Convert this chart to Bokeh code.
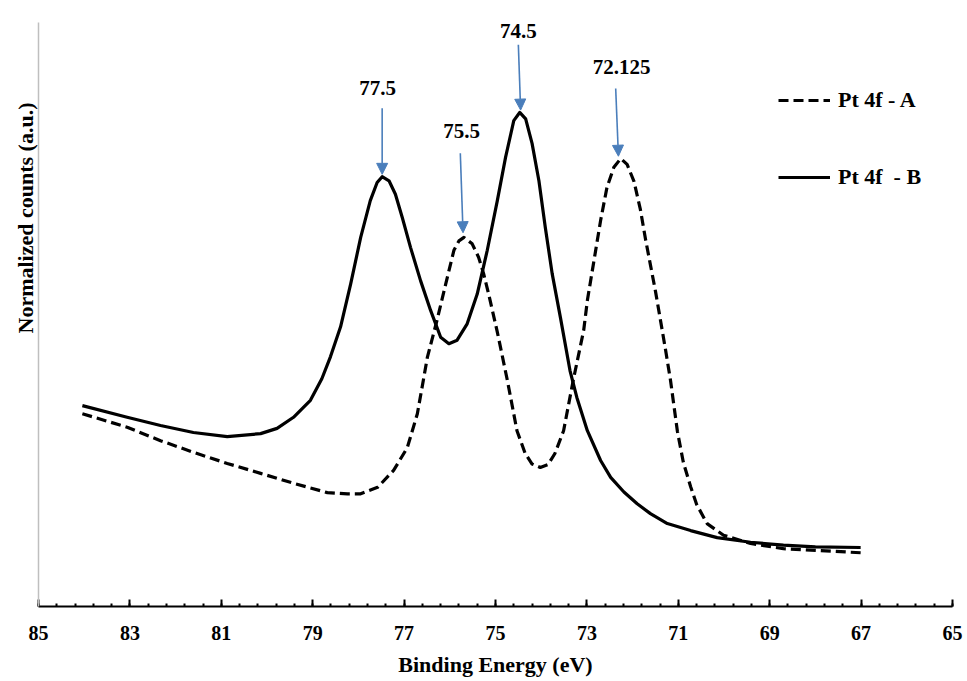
import numpy as np
from bokeh.plotting import figure
from bokeh.models import (Range1d, FixedTicker, Arrow, NormalHead, Legend, Title,
                          LegendItem, ColumnDataSource, LabelSet)
from bokeh.core.properties import value
from bokeh.embed import file_html
from bokeh.resources import INLINE

# ---- data ----
energy_a = [84.04, 83.06, 82.33, 81.61, 80.87, 80.14, 79.42, 78.68, 78.24, 77.95,
            77.58, 77.23, 76.93, 76.71, 76.58, 76.49, 76.28, 76.09, 75.91, 75.80,
            75.69, 75.51, 75.37, 75.26, 75.15, 74.96, 74.74, 74.53, 74.35, 74.20,
            74.02, 73.85, 73.70, 73.51, 73.30, 73.07, 72.99, 72.85, 72.70, 72.56,
            72.41, 72.26, 72.12, 71.97, 71.83, 71.72, 71.61, 71.50, 71.39, 71.28,
            71.17, 71.02, 70.89, 70.73, 70.60, 70.37, 70.01, 69.42, 68.70, 67.95, 67.01]
counts_a = [0.330, 0.307, 0.284, 0.264, 0.245, 0.228, 0.211, 0.195, 0.193, 0.193,
            0.204, 0.233, 0.272, 0.330, 0.387, 0.427, 0.490, 0.552, 0.610, 0.626,
            0.632, 0.621, 0.598, 0.570, 0.535, 0.470, 0.387, 0.301, 0.262, 0.244,
            0.238, 0.243, 0.262, 0.301, 0.387, 0.473, 0.524, 0.590, 0.661, 0.718,
            0.752, 0.767, 0.757, 0.728, 0.680, 0.630, 0.585, 0.540, 0.490, 0.440,
            0.387, 0.300, 0.247, 0.205, 0.175, 0.142, 0.122, 0.108, 0.099, 0.096, 0.092]

energy_b = [84.04, 83.06, 82.33, 81.61, 80.87, 80.14, 79.78, 79.42, 79.05, 78.80,
            78.61, 78.39, 78.17, 77.95, 77.74, 77.59, 77.48, 77.33, 77.19, 77.04,
            76.86, 76.64, 76.42, 76.20, 76.02, 75.84, 75.62, 75.40, 75.18, 74.96,
            74.78, 74.60, 74.47, 74.34, 74.20, 74.05, 73.91, 73.76, 73.58, 73.37,
            73.22, 72.99, 72.70, 72.48, 72.19, 71.90, 71.61, 71.24, 70.73, 70.15,
            69.42, 68.70, 68.00, 67.01]
counts_b = [0.344, 0.324, 0.310, 0.298, 0.291, 0.296, 0.305, 0.324, 0.353, 0.390,
            0.428, 0.479, 0.552, 0.632, 0.695, 0.726, 0.736, 0.729, 0.706, 0.666,
            0.615, 0.558, 0.507, 0.461, 0.450, 0.456, 0.484, 0.535, 0.610, 0.695,
            0.769, 0.832, 0.846, 0.835, 0.793, 0.729, 0.649, 0.570, 0.495, 0.404,
            0.358, 0.301, 0.250, 0.221, 0.196, 0.176, 0.159, 0.142, 0.130, 0.118,
            0.110, 0.105, 0.102, 0.101]

series_names = ["Pt 4f - A", "Pt 4f  - B"]

x_ticks = [85, 83, 81, 79, 77, 75, 73, 71, 69, 67, 65]

peak_labels = ["77.5", "75.5", "74.5", "72.125"]
label_x = [77.58, 75.74, 74.50, 72.24]
label_y = [0.887, 0.815, 0.986, 0.923]
arrow_x_tail = [77.48, 75.77, 74.50, 72.37]
arrow_y_tail = [0.853, 0.776, 0.962, 0.887]
arrow_x_tip = [77.48, 75.71, 74.45, 72.31]
arrow_y_tip = [0.740, 0.640, 0.850, 0.771]

FONT = "Liberation Serif"
ARROW_BLUE = "#4A7EBB"

p = figure(width=967, height=681, output_backend="svg", toolbar_location=None,
           x_range=Range1d(85, 65), y_range=Range1d(0, 1),
           min_border_left=38, min_border_right=15, min_border_top=22,
           min_border_bottom=75)
p.outline_line_color = None
p.xgrid.visible = False
p.ygrid.visible = False
p.background_fill_color = "white"
p.border_fill_color = "white"

ra = p.line(energy_a, counts_a, line_color="black", line_width=3.2, line_dash="10 5",
            line_join="round")
rb = p.line(energy_b, counts_b, line_color="black", line_width=3.2, line_join="round")

# x axis
minor = [round(v, 2) for v in np.arange(65, 85.001, 0.4)]
xa = p.xaxis[0]
xa.ticker = FixedTicker(ticks=x_ticks, minor_ticks=minor)
xa.axis_line_color = "black"
xa.axis_line_width = 2
xa.major_tick_line_color = "black"
xa.major_tick_line_width = 2
xa.major_tick_in = 7
xa.major_tick_out = 0
xa.minor_tick_line_color = "black"
xa.minor_tick_line_width = 2
xa.minor_tick_in = 3
xa.minor_tick_out = 0
xa.major_label_text_font = FONT
xa.major_label_text_font_style = "bold"
xa.major_label_text_font_size = "20px"
xa.major_label_text_color = "black"
xa.major_label_standoff = 19
xa.axis_label = "Binding Energy (eV)"
xa.axis_label_text_font = FONT
xa.axis_label_text_font_style = "bold"
xa.axis_label_text_font_size = "22px"
xa.axis_label_text_color = "black"
xa.axis_label_standoff = 9

# y axis (line only)
ya = p.yaxis[0]
ya.ticker = FixedTicker(ticks=[])
ya.axis_line_color = "#BFBFBF"
ya.axis_line_width = 1.5
ya.major_tick_line_color = None
ya.minor_tick_line_color = None
ya.major_label_text_font_size = "0px"
ya.major_tick_in = 0
ya.major_tick_out = 0
ya.major_label_standoff = 0

p.add_layout(Title(text="Normalized counts (a.u.)", align="left", offset=273,
                   vertical_align="middle", standoff=0,
                   text_font=FONT, text_font_style="bold", text_font_size="22px",
                   text_color="black"), "left")

# peak annotations
asrc = ColumnDataSource(dict(x0=arrow_x_tail, y0=arrow_y_tail, x1=arrow_x_tip, y1=arrow_y_tip))
p.add_layout(Arrow(source=asrc, x_start="x0", y_start="y0", x_end="x1", y_end="y1",
                   line_color=ARROW_BLUE, line_width=1.6,
                   end=NormalHead(size=11, fill_color=ARROW_BLUE, line_color=ARROW_BLUE)))
lsrc = ColumnDataSource(dict(x=label_x, y=label_y, t=peak_labels))
p.add_layout(LabelSet(source=lsrc, x="x", y="y", text="t", text_align="center",
                      text_baseline="middle", text_font=value(FONT),
                      text_font_style="bold", text_font_size="21px", text_color="black"))

legend = Legend(items=[LegendItem(label=series_names[0], renderers=[ra]),
                       LegendItem(label=series_names[1], renderers=[rb])],
                location=(740, 416), padding=0, margin=0, spacing=51,
                glyph_width=52, glyph_height=24, label_height=24, label_standoff=8,
                border_line_color=None, background_fill_alpha=0,
                label_text_font=FONT, label_text_font_style="bold",
                label_text_font_size="22px", label_text_color="black")
p.add_layout(legend)

open("out.html", "w").write(file_html(p, INLINE))
